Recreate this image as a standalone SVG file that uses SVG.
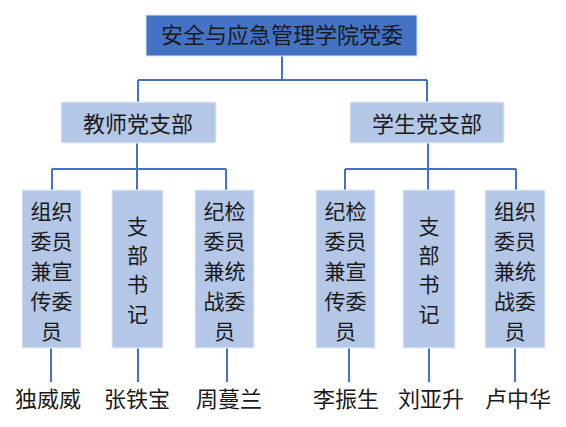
<svg xmlns="http://www.w3.org/2000/svg" width="566" height="427" viewBox="0 0 566 427">
<style>
.t{font-family:"Noto Sans CJK SC","Noto Sans",sans-serif;fill:#1a1a1a;text-anchor:middle}
.top{fill:#4472C4;stroke:#DCE6F5;stroke-width:1}
.mid{fill:#B4C7E7;stroke:#E8EEF8;stroke-width:1}
.c{stroke:#4472C4;stroke-width:2;fill:none}
</style>
<rect width="566" height="427" fill="#ffffff"/>
<g id="connectors">
<path class="c" d="M282 56V80M138 80H427M138 80V102M427 80V102"/>
<path class="c" d="M137 143V169M52 169H226M52 169V190M137 169V190M226 169V190"/>
<path class="c" d="M428 143V169M345 169H516M345 169V190M428 169V190M516 169V190"/>
<path class="c" d="M51 348V382M138 348V382M227 348V382M349 348V382M429 348V382M515 348V382"/>
</g>
<g id="root"><rect class="top" x="146" y="15" width="271" height="41"/><text class="t" x="282" y="43" font-size="22">安全与应急管理学院党委</text></g>
<g id="teacher"><rect class="mid" x="61" y="102" width="155" height="41"/><text class="t" x="138" y="132" font-size="22">教师党支部</text></g>
<g id="student"><rect class="mid" x="350" y="102" width="154" height="41"/><text class="t" x="427" y="132" font-size="22">学生党支部</text></g>
<g id="t1"><rect class="mid" x="22" y="190" width="59" height="158"/><text class="t" font-size="21"><tspan x="51.5" y="219">组织</tspan><tspan x="51.5" y="249">委员</tspan><tspan x="51.5" y="279">兼宣</tspan><tspan x="51.5" y="309">传委</tspan><tspan x="51.5" y="339">员</tspan></text></g>
<g id="t2"><rect class="mid" x="112" y="190" width="51" height="158"/><text class="t" font-size="21"><tspan x="137.5" y="234">支</tspan><tspan x="137.5" y="263">部</tspan><tspan x="137.5" y="292">书</tspan><tspan x="137.5" y="322">记</tspan></text></g>
<g id="t3"><rect class="mid" x="195" y="190" width="59" height="158"/><text class="t" font-size="21"><tspan x="224.5" y="219">纪检</tspan><tspan x="224.5" y="249">委员</tspan><tspan x="224.5" y="279">兼统</tspan><tspan x="224.5" y="309">战委</tspan><tspan x="224.5" y="339">员</tspan></text></g>
<g id="s1"><rect class="mid" x="316" y="190" width="59" height="158"/><text class="t" font-size="21"><tspan x="345.5" y="219">纪检</tspan><tspan x="345.5" y="249">委员</tspan><tspan x="345.5" y="279">兼宣</tspan><tspan x="345.5" y="309">传委</tspan><tspan x="345.5" y="339">员</tspan></text></g>
<g id="s2"><rect class="mid" x="403" y="190" width="52" height="158"/><text class="t" font-size="21"><tspan x="429" y="234">支</tspan><tspan x="429" y="263">部</tspan><tspan x="429" y="292">书</tspan><tspan x="429" y="322">记</tspan></text></g>
<g id="s3"><rect class="mid" x="485" y="190" width="60" height="158"/><text class="t" font-size="21"><tspan x="515" y="219">组织</tspan><tspan x="515" y="249">委员</tspan><tspan x="515" y="279">兼统</tspan><tspan x="515" y="309">战委</tspan><tspan x="515" y="339">员</tspan></text></g>
<g id="names">
<text class="t" x="48" y="407" font-size="22">独威威</text>
<text class="t" x="137" y="407" font-size="22">张铁宝</text>
<text class="t" x="229" y="407" font-size="22">周蔓兰</text>
<text class="t" x="346" y="407" font-size="22">李振生</text>
<text class="t" x="431" y="407" font-size="22">刘亚升</text>
<text class="t" x="518" y="407" font-size="22">卢中华</text>
</g>
</svg>
